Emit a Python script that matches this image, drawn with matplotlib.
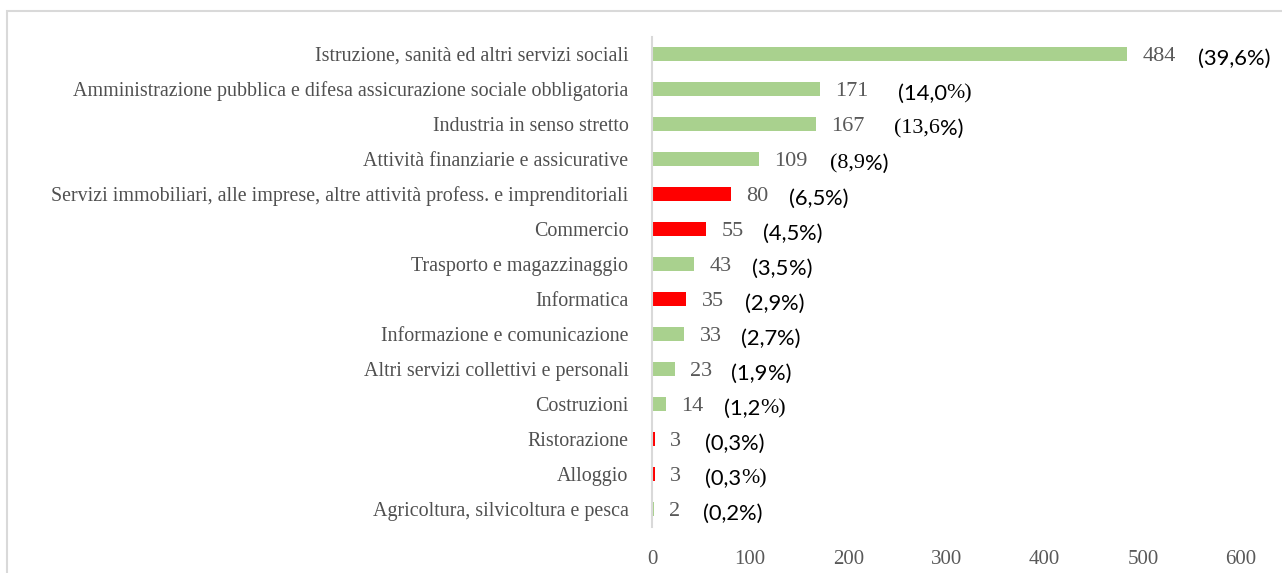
import matplotlib.pyplot as plt
from matplotlib.patches import Rectangle

categories = [
    "Istruzione, sanità ed altri servizi sociali",
    "Amministrazione pubblica e difesa assicurazione sociale obbligatoria",
    "Industria in senso stretto",
    "Attività finanziarie e assicurative",
    "Servizi immobiliari, alle imprese, altre attività profess. e imprenditoriali",
    "Commercio",
    "Trasporto e magazzinaggio",
    "Informatica",
    "Informazione e comunicazione",
    "Altri servizi collettivi e personali",
    "Costruzioni",
    "Ristorazione",
    "Alloggio",
    "Agricoltura, silvicoltura e pesca",
]
values = [484, 171, 167, 109, 80, 55, 43, 35, 33, 23, 14, 3, 3, 2]
percents = ["39,6", "14,0", "13,6", "8,9", "6,5", "4,5", "3,5",
            "2,9", "2,7", "1,9", "1,2", "0,3", "0,3", "0,2"]
highlight = [False, False, False, False, True, True, False,
             True, False, False, False, True, True, False]

GREEN = "#A9D18E"
RED = "#FF0000"
SERIF = "Liberation Serif"
SANS = "Lato"

# font of the two parts of each percent label: "(xx,x" and "%)"
pct_fonts = [(SANS, SANS), (SANS, SERIF), (SERIF, SANS), (SERIF, SANS),
             (SANS, SANS), (SANS, SANS), (SANS, SANS), (SANS, SANS),
             (SANS, SANS), (SANS, SANS), (SANS, SERIF), (SANS, SANS),
             (SANS, SERIF), (SANS, SANS)]
pct_gap = [16, 21, 21, 16, 15, 14, 15, 15, 14, 14, 15, 17, 17, 16]

fig = plt.figure(figsize=(12.82, 5.73), dpi=100)
ax = fig.add_axes([652 / 1282, 1 - 526.5 / 573, (1241 - 652) / 1282, 490 / 573])

y = list(range(len(categories)))
colors = [RED if h else GREEN for h in highlight]
ax.barh(y, values, height=0.4, color=colors)
ax.set_ylim(len(categories) - 0.5, -0.5)
ax.set_xlim(0, 600)
ax.set_xticks(range(0, 601, 100))
ax.set_yticks(y)
ax.set_yticklabels(categories, family=SERIF, fontsize=14.4, color="#505050")
ax.tick_params(axis="y", length=0, pad=17)
ax.tick_params(axis="x", length=0, pad=17, labelcolor="#595959", labelsize=15)
for lab in ax.get_xticklabels():
    lab.set_family(SERIF)

for s in ["top", "right", "bottom"]:
    ax.spines[s].set_visible(False)
ax.spines["left"].set_color("#D9D9D9")
ax.spines["left"].set_linewidth(1.5)

for i, v in enumerate(values):
    t = ax.annotate(str(v), xy=(v, i), xytext=(11, 0), textcoords="offset points",
                    va="center_baseline", ha="left", family=SERIF, fontsize=16,
                    color="#595959")
    f1, f2 = pct_fonts[i]
    p1 = ax.annotate("(" + percents[i], xy=(1, 0), xycoords=t,
                     xytext=(pct_gap[i], -2), textcoords="offset points",
                     va="bottom", ha="left", family=f1, fontsize=15.8, color="black")
    ax.annotate("%)", xy=(1, 0), xycoords=p1, va="bottom", ha="left",
                family=f2, fontsize=15.8, color="black")

fig.patches.append(Rectangle((7 / 1282, -0.1), 2, 1 - 11 / 573 + 0.1,
                             transform=fig.transFigure, fill=False,
                             edgecolor="#D9D9D9", linewidth=1.5))

fig.savefig("out.png", dpi=100)
